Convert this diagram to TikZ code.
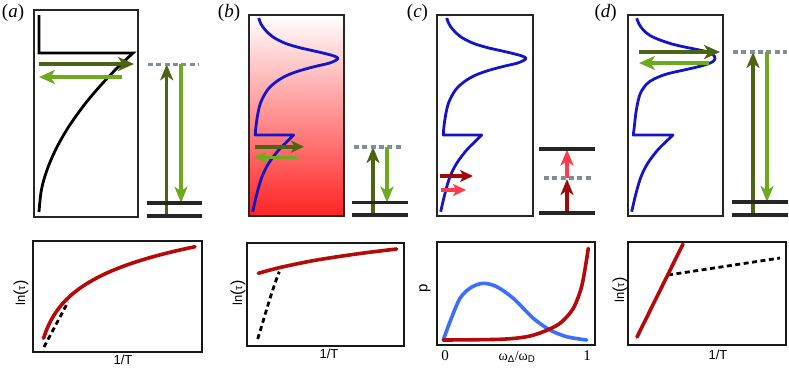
\documentclass[tikz,border=0pt]{standalone}
\usepackage{fontspec}
\newfontfamily\hv{Liberation Sans}
\newfontfamily\tm{Liberation Serif}
\usetikzlibrary{arrows.meta}
\definecolor{dkgreen}{HTML}{4D6414}
\definecolor{ltgreen}{HTML}{6EAA1E}
\definecolor{levgray}{HTML}{7F8F94}
\definecolor{dosblue}{HTML}{1414C8}
\definecolor{dkred}{HTML}{A00A0A}
\definecolor{pinkred}{HTML}{FF3A4A}
\definecolor{plred}{HTML}{B40A0A}
\definecolor{plblue}{HTML}{3C6EFF}
\definecolor{gradred}{RGB}{255,35,35}
\def\doscurve{plot[smooth,tension=0.55] coordinates {(9.7,18)(12,24)(16.3,30)(24,37)(36.3,43.3)(50,47.5)(63,50.5)(76,53.5)(85,56)(89,58.3)(86,60.8)(79.7,63.3)(66,66.5)(53,70)(40,74.5)(29.7,80)(21,87)(16.3,93.3)(11.5,103)(9.2,112)(7.5,122)(6.6,130)(6.3,135)} -- (44.7,135) -- plot[smooth,tension=0.55] coordinates {(44.7,135)(39.7,140)(29.7,150)(19.7,163.3)(13,176.7)(8,193.3)(3.7,211.7)}}
\def\doscurved{plot[smooth,tension=0.55] coordinates {(8.7,18.3)(11,24)(15.3,30)(22,35.5)(32,40)(44,44)(55.3,46.7)(68,49.3)(78.7,51.7)(85,54.5)(87,58.3)(85,61.5)(80,63.8)(70,66.8)(56,70)(38.7,74)(26,79)(18.7,84)(13,92)(10.3,100)(8,112)(6.5,125)(5.3,135)} -- (45,135) -- plot[smooth,tension=0.55] coordinates {(45,135)(39.7,140)(29.7,150)(19.7,163.3)(13,176.7)(8,193.3)(3.7,211.7)}}
\newcommand\lntau{ln{\fontsize{16}{16}\selectfont(}{\fontsize{11}{11}\selectfont τ}{\fontsize{16}{16}\selectfont)}}
\begin{document}
\begin{tikzpicture}[x=1pt,y=-1pt,
  boxframe/.style={draw=black!85, line width=1.3pt},
  pframe/.style={draw=black!90, line width=2pt},
  lev/.style={draw=black!85, line width=3.6pt},
  vlev/.style={draw=levgray, line width=3.3pt, dash pattern=on 5pt off 3.3pt},
  dos/.style={draw=dosblue, line width=2.8pt, line join=round},
  harr/.style={line width=3.6pt, -{Stealth[length=16pt,width=14pt,inset=4.5pt]}},
  sarr/.style={line width=3.6pt, -{Stealth[length=13pt,width=12pt,inset=3.5pt]}},
  varr/.style={line width=3.4pt, -{Stealth[length=16pt,width=13pt,inset=4.5pt]}},
  pcurve/.style={line width=3.6pt, line cap=round},
  pdash/.style={draw=black, line width=2.8pt, dash pattern=on 5pt off 3.5pt},
  plab/.style={font=\tm\fontsize{19}{19}\selectfont, inner sep=0pt},
  axlab/.style={font=\hv\fontsize{13}{13}\selectfont, inner sep=0pt},
  numlab/.style={font=\tm\fontsize{15}{15}\selectfont, inner sep=0pt}]
\useasboundingbox (0,0) rectangle (789,368);

% ---------------- panel (a)
\node[plab] (la) at (13,13) {(\textit{a})};
\draw[boxframe] (34,10) rectangle (138,217);
\draw[line width=2.8pt, line join=miter] (39,15) -- (39,53) -- (133,53) -- plot[smooth,tension=0.6] coordinates {(133,53)(125.5,60)(115.2,70)(105.6,80)(92.3,95)(80.4,110)(66.6,130)(55.5,150)(47,170)(41.4,190)(39,212)};
\draw[harr, dkgreen] (39,64) -- (134,64);
\draw[harr, ltgreen] (122,77) -- (39,77);
\draw[varr, dkgreen] (166.7,216) -- (166.7,64.3);
\draw[varr, ltgreen] (181,64.3) -- (181,202.7);
\draw[vlev] (148,64.3) -- (199,64.3);
\draw[lev] (146.7,202.7) -- (201.7,202.7);
\draw[lev] (146.7,216) -- (201.7,216);

% ---------------- panel (b)
\node[plab] (lb) at (229,13) {(\textit{b})};
\shade[top color=white, bottom color=gradred] (249,15) rectangle (344,216);
\draw[boxframe] (249,15) rectangle (344,216);
\begin{scope}[shift={(249,0)}]
\draw[dos] \doscurve;
\end{scope}
\draw[sarr, dkgreen] (255,146.7) -- (304,146.7);
\draw[sarr, ltgreen] (296.7,157.3) -- (254,157.3);
\draw[varr, dkgreen] (373,215) -- (373,147);
\draw[varr, ltgreen] (387,147) -- (387,202.5);
\draw[vlev] (354,147) -- (403,147);
\draw[lev] (352,202.5) -- (408,202.5);
\draw[lev] (352,215) -- (408,215);

% ---------------- panel (c)
\node[plab] (lc) at (417.5,13) {(\textit{c})};
\draw[boxframe] (437,15) rectangle (533,216);
\begin{scope}[shift={(437,0)}]
\draw[dos] \doscurve;
\end{scope}
\draw[sarr, dkred] (440,176) -- (473,176);
\draw[sarr, pinkred] (441,190) -- (466,190);
\draw[varr, dkred] (567,213) -- (567,179);
\draw[varr, pinkred] (567,178) -- (567,149.5);
\draw[vlev] (544,178) -- (593,178);
\draw[lev] (539,149) -- (595,149);
\draw[lev] (539,213) -- (595,213);

% ---------------- panel (d)
\node[plab] (ld) at (605.7,13) {(\textit{d})};
\draw[boxframe] (628,15) rectangle (723,216);
\begin{scope}[shift={(628,0)}]
\draw[dos] \doscurved;
\end{scope}
\draw[harr, dkgreen] (639,52) -- (720,52);
\draw[harr, ltgreen] (709,63) -- (639,63);
\draw[varr, dkgreen] (753,215) -- (753,52);
\draw[varr, ltgreen] (767,52) -- (767,202);
\draw[vlev] (733,52) -- (787,52);
\draw[lev] (732,202) -- (788,202);
\draw[lev] (732,215) -- (788,215);

% ---------------- bottom plot (a)
\draw[pframe] (33,241) rectangle (202,352);
\draw[pdash] (44,347) -- (68,302);
\draw[pcurve, plred] plot[domain=43.5:195, samples=60] (\x, {340-33.5*ln(1+(\x-43)/10)});
\node[axlab, rotate=90] (yla) at (21,293) {\lntau};
\node[axlab] (xla) at (123,360) {1/T};

% ---------------- bottom plot (b)
\draw[pframe] (247.3,242.7) rectangle (404.3,345.7);
\draw[pdash] (257.7,339) .. controls (266,312) and (272,290) .. (279.3,271.7);
\draw[pcurve, plred] plot[smooth] coordinates {(258.3,273.3)(280,267.5)(316.7,260)(360,253.5)(396.7,249)};
\node[axlab, rotate=90] (ylb) at (238,293) {\lntau};
\node[axlab] (xlb) at (329,354) {1/T};

% ---------------- bottom plot (c)
\draw[pframe] (437,242) rectangle (595,345);
\draw[pcurve, plblue] plot[smooth] coordinates {(443.3,340)(450,321.7)(460,298.3)(471,287.5)(483.3,283.3)(496.7,286.7)(513.3,298.3)(533.3,318.3)(550,330)(566.7,336.7)(586.7,340)};
\draw[pcurve, plred] plot[smooth] coordinates {(443.3,340)(500,339.3)(526.7,336.7)(543.3,331.7)(560,323.3)(573.3,308.3)(582,285)(588.3,248.3)};
\node[axlab, rotate=90, font=\hv\fontsize{15}{15}\selectfont] (ylc) at (425,288) {p};
\node[numlab] (zc) at (445,356) {0};
\node[numlab] (oc) at (587,356) {1};
\node[inner sep=0pt, font=\tm\fontsize{14}{14}\selectfont] (xlc) at (517,357) {ω\textsubscript{\hv Δ}/ω\textsubscript{\hv D}};

% ---------------- bottom plot (d)
\draw[pframe] (628,242) rectangle (786,345);
\draw[pdash] (668,275) -- (780,258);
\draw[pcurve, plred] (637,337) -- (683,244);
\node[axlab, rotate=90] (yld) at (620,290) {\lntau};
\node[axlab] (xld) at (718,355) {1/T};
\end{tikzpicture}
\end{document}
